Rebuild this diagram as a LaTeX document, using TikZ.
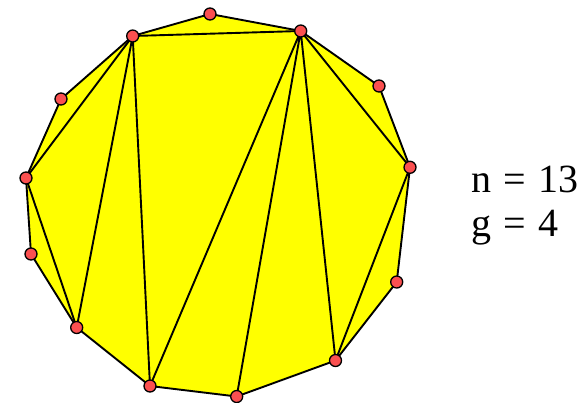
\documentclass[tikz,border=0pt]{standalone}
\usepackage{fontspec}
\setmainfont{Liberation Serif}
\begin{document}
\begin{tikzpicture}[x=1pt,y=-1pt,
  edge/.style={line width=1.9pt,line join=round},
  vtx/.style={circle,draw=black,line width=1.3pt,fill=dotred,inner sep=0pt,minimum size=12pt},
  lbl/.style={anchor=base west,font=\fontsize{40}{48}\selectfont,inner sep=0pt}]
\definecolor{dotred}{RGB}{250,80,80}
\definecolor{polyyellow}{RGB}{255,255,0}
\useasboundingbox (0,0) rectangle (588,402);
\coordinate (v1) at (210,14);
\coordinate (v2) at (300.7,31);
\coordinate (v3) at (379,86);
\coordinate (v4) at (410,167.3);
\coordinate (v5) at (396.7,282);
\coordinate (v6) at (335.5,360.5);
\coordinate (v7) at (236.7,396.5);
\coordinate (v8) at (150,386);
\coordinate (v9) at (76.7,327.5);
\coordinate (v10) at (31,254);
\coordinate (v11) at (26,178);
\coordinate (v12) at (61,99);
\coordinate (v13) at (132.7,36);
\fill[polyyellow] (v1)--(v2)--(v3)--(v4)--(v5)--(v6)--(v7)--(v8)--(v9)--(v10)--(v11)--(v12)--(v13)--cycle;
\draw[edge] (v1)--(v2)--(v3)--(v4)--(v5)--(v6)--(v7)--(v8)--(v9)--(v10)--(v11)--(v12)--(v13)--cycle;
\draw[edge] (v13)--(v2) (v13)--(v11) (v13)--(v9) (v13)--(v8) (v2)--(v8) (v2)--(v7) (v2)--(v6) (v2)--(v4) (v4)--(v6) (v11)--(v9);
\foreach \i in {1,...,13} \node[vtx] (d\i) at (v\i) {};
\node[lbl] (tn) at (471,192.3) {n\hspace{12.5pt}=\hspace{12.5pt}13};
\node[lbl] (tg) at (471,236.7) {g\hspace{12.5pt}=\hspace{12.5pt}4};
\end{tikzpicture}
\end{document}
